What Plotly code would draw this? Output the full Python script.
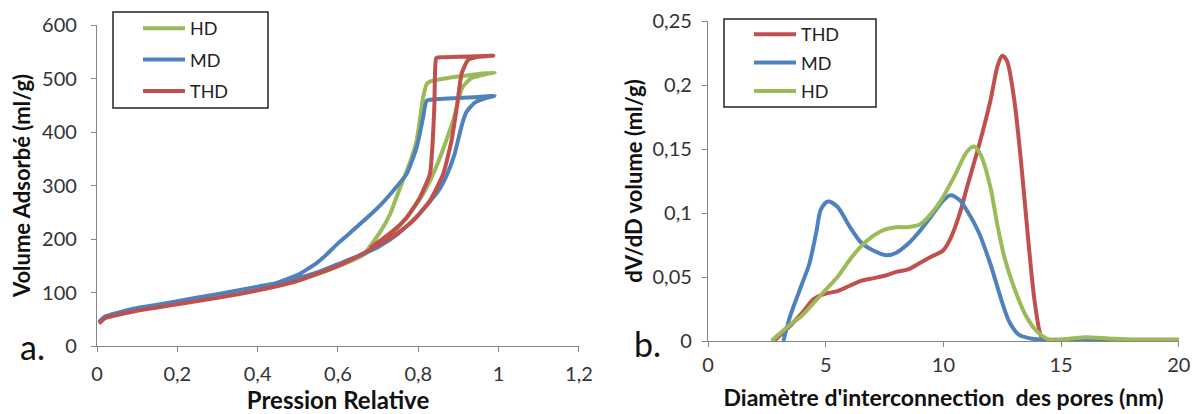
import plotly.graph_objects as go

# ---------------- Data: (a) isotherms (adsorption then desorption) ----------------
hd_p = [0.005, 0.02, 0.05, 0.1, 0.15, 0.2, 0.3, 0.4, 0.5, 0.55, 0.6, 0.65, 0.7, 0.75, 0.8, 0.83, 0.85,
        0.87, 0.89, 0.9, 0.91, 0.93, 0.96, 0.99,
        0.95, 0.91, 0.87, 0.83, 0.821, 0.812, 0.796, 0.78, 0.762, 0.745, 0.73, 0.705, 0.67]
hd_v = [44, 53, 60, 68, 74, 80, 92, 105, 123, 135, 149, 165, 188, 222, 270, 310, 345,
        385, 430, 462, 484, 500, 507, 512,
        509, 505, 501, 495, 490, 465, 385, 345, 310, 277, 247, 213, 176]

md_p = [0.005, 0.02, 0.05, 0.1, 0.15, 0.2, 0.3, 0.4, 0.45, 0.5, 0.55, 0.6, 0.65, 0.7, 0.75, 0.8, 0.85,
        0.87, 0.89, 0.9, 0.91, 0.92, 0.94, 0.97, 0.99,
        0.95, 0.9, 0.85, 0.821, 0.812, 0.796, 0.771, 0.738, 0.705, 0.68, 0.65, 0.62, 0.6, 0.57,
        0.55, 0.52, 0.5, 0.47, 0.44]
md_v = [45, 55, 62, 71, 77, 84, 97, 111, 118, 127, 138, 153, 168, 185, 210, 245, 290,
        318, 358, 388, 418, 438, 455, 464, 468,
        466, 464, 462, 459, 428, 372, 322, 291, 263, 245, 225, 205, 192, 170,
        157, 142, 133, 124, 116]

thd_p = [0.005, 0.02, 0.05, 0.1, 0.15, 0.2, 0.3, 0.4, 0.5, 0.6, 0.65, 0.705, 0.746, 0.788, 0.829, 0.862,
         0.883, 0.896, 0.908, 0.924, 0.95, 0.987,
         0.95, 0.9, 0.86, 0.845, 0.842, 0.84, 0.836, 0.829, 0.804, 0.771, 0.738, 0.705, 0.68]
thd_v = [42, 52, 58, 66, 72, 78, 90, 104, 122, 150, 168, 191, 210, 235, 272, 322,
         385, 447, 510, 535, 541, 543,
         542, 541, 540, 539, 520, 450, 385, 322, 278, 240, 216, 197, 183]

# ---------------- Data: (b) pore size distributions ----------------
thd_d = [2.8, 3.5, 4.0, 4.5, 5.0, 5.5, 6.0, 6.5, 7.0, 7.5, 8.0, 8.5, 9.0, 9.5, 10.0, 10.3, 10.7, 11.0,
         11.5, 12.0, 12.3, 12.5, 12.7, 13.0, 13.3, 13.6, 13.9, 14.2, 14.5, 15, 16, 17, 18, 19, 20]
thd_y = [0.0, 0.012, 0.022, 0.033, 0.037, 0.039, 0.043, 0.047, 0.049, 0.051, 0.054, 0.056, 0.061, 0.066,
         0.071, 0.08, 0.1, 0.12, 0.152, 0.188, 0.215, 0.223, 0.219, 0.19, 0.14, 0.08, 0.028, 0.002,
         0.001, 0.001, 0.001, 0.001, 0.001, 0.001, 0.001]

md_d = [3.2, 3.5, 4.0, 4.3, 4.6, 4.8, 5.1, 5.5, 6.0, 6.5, 7.0, 7.6, 8.0, 8.5, 9.0, 9.5, 10.0, 10.3,
        10.7, 11.0, 11.5, 12.0, 12.5, 12.8, 13.2, 13.7, 14.2, 15, 16, 17, 18, 19, 20]
md_y = [0.0, 0.02, 0.045, 0.06, 0.085, 0.103, 0.109, 0.105, 0.09, 0.077, 0.071, 0.067, 0.069, 0.076,
        0.086, 0.098, 0.11, 0.114, 0.11, 0.102, 0.085, 0.06, 0.03, 0.015, 0.005, 0.002, 0.001,
        0.0, 0.0, 0.0, 0.0, 0.0, 0.0]

hd_d = [2.7, 3.0, 3.5, 4.0, 4.5, 5.0, 5.5, 6.0, 6.5, 7.0, 7.5, 8.0, 8.5, 9.0, 9.5, 10.0, 10.5, 11.0,
        11.3, 11.6, 12.0, 12.3, 12.6, 13.0, 13.5, 14.0, 14.5, 15, 16, 17, 18, 19, 20]
hd_y = [0.0, 0.005, 0.013, 0.02, 0.03, 0.04, 0.05, 0.063, 0.074, 0.082, 0.087, 0.089, 0.089, 0.091,
        0.1, 0.113, 0.13, 0.148, 0.152, 0.145, 0.12, 0.09, 0.065, 0.042, 0.02, 0.007, 0.001, 0.001,
        0.003, 0.002, 0.001, 0.001, 0.001]

# tick labels
xa_vals = [0, 0.2, 0.4, 0.6, 0.8, 1.0, 1.2]
xa_text = ["0", "0,2", "0,4", "0,6", "0,8", "1", "1,2"]
ya_vals = [0, 100, 200, 300, 400, 500, 600]
ya_text = ["0", "100", "200", "300", "400", "500", "600"]
xb_vals = [0, 5, 10, 15, 20]
xb_text = ["0", "5", "10", "15", "20"]
yb_vals = [0, 0.05, 0.1, 0.15, 0.2, 0.25]
yb_text = ["0", "0,05", "0,1", "0,15", "0,2", "0,25"]

GREEN = "#9BBB59"
BLUE = "#4F81BD"
RED = "#C0504D"
FONT = "Lato, 'Open Sans', sans-serif"
LW = 4

# page offset (default body margin of the html page) and figure size
OFF = 8
W, H = 1199 - OFF, 414 - OFF


def px(x):
    return (x - OFF) / W


def py(y):
    return (414 - y) / H


fig = go.Figure()

# (a) legend order: HD, MD, THD
for name, p, v, c in [("HD", hd_p, hd_v, GREEN), ("MD", md_p, md_v, BLUE), ("THD", thd_p, thd_v, RED)]:
    fig.add_trace(go.Scatter(x=p, y=v, mode="lines", name=name, legendgroup="a" + name,
                             line=dict(color=c, width=LW, shape="spline", smoothing=0.5),
                             xaxis="x", yaxis="y", legend="legend"))

# (b) legend order: THD, MD, HD
for name, d, yv, c in [("THD", thd_d, thd_y, RED), ("MD", md_d, md_y, BLUE), ("HD", hd_d, hd_y, GREEN)]:
    fig.add_trace(go.Scatter(x=d, y=yv, mode="lines", name=name, legendgroup="b" + name,
                             line=dict(color=c, width=LW, shape="spline", smoothing=0.8),
                             xaxis="x2", yaxis="y2", legend="legend2"))

axis_common = dict(showgrid=False, zeroline=False, showline=True, linecolor="#868686", linewidth=1.3,
                   ticks="outside", ticklen=5, tickcolor="#868686", ticklabeloverflow="allow",
                   tickfont=dict(family=FONT, size=20, color="#333333"))
xtitle_font = dict(family=FONT, size=24, color="#111111", weight="bold")
x2title_font = dict(family=FONT, size=23, color="#111111", weight="bold")
ytitle_font = dict(family=FONT, size=22, color="#111111", weight="bold")

fig.update_layout(
    width=W, height=H,
    margin=dict(l=0, r=0, t=0, b=0, autoexpand=False),
    paper_bgcolor="white", plot_bgcolor="white",
    showlegend=True,
    xaxis=dict(domain=[px(97), px(579)], range=[0, 1.2001], tickvals=xa_vals, ticktext=xa_text,
               ticklabelstandoff=5,
               title=dict(text="Pression Relative", font=xtitle_font, standoff=7), anchor="y", **axis_common),
    yaxis=dict(domain=[py(346), py(25)], range=[0, 600.5], tickvals=ya_vals, ticktext=ya_text,
               ticklabelstandoff=10,
               title=dict(text="Volume Adsorbé (ml/g)", font=ytitle_font, standoff=9), anchor="x", **axis_common),
    xaxis2=dict(domain=[px(708), px(1179)], range=[0, 20.01], tickvals=xb_vals, ticktext=xb_text,
                ticklabelstandoff=1,
                title=dict(text="Diamètre d'interconnection  des pores (nm)", font=x2title_font, standoff=14),
                anchor="y2", **axis_common),
    yaxis2=dict(domain=[py(341), py(21)], range=[0, 0.2502], tickvals=yb_vals, ticktext=yb_text,
                ticklabelstandoff=6,
                title=dict(text="dV/dD volume (ml/g)", font=ytitle_font, standoff=3), anchor="x2", **axis_common),
    legend=dict(x=px(138), y=py(10), xanchor="left", yanchor="top", bgcolor="rgba(0,0,0,0)",
                font=dict(family=FONT, size=18, color="#222222"), itemwidth=42, tracegroupgap=5,
                traceorder="grouped"),
    legend2=dict(x=px(749), y=py(16), xanchor="left", yanchor="top", bgcolor="rgba(0,0,0,0)",
                 font=dict(family=FONT, size=18, color="#222222"), itemwidth=42, tracegroupgap=2,
                 traceorder="grouped"),
    shapes=[
        dict(type="rect", xref="paper", yref="paper", x0=px(113), x1=px(268),
             y0=py(108), y1=py(12), line=dict(color="#222222", width=1.5)),
        dict(type="rect", xref="paper", yref="paper", x0=px(724), x1=px(876),
             y0=py(107), y1=py(19), line=dict(color="#222222", width=1.5)),
    ],
    annotations=[
        dict(text="a.", x=px(18), y=py(346), xref="paper", yref="paper", showarrow=False,
             xanchor="left", yanchor="middle", font=dict(family=FONT, size=34, color="#111111")),
        dict(text="b.", x=px(632), y=py(343), xref="paper", yref="paper", showarrow=False,
             xanchor="left", yanchor="middle", font=dict(family=FONT, size=34, color="#111111")),
    ],
)

fig.write_html("out.html")
